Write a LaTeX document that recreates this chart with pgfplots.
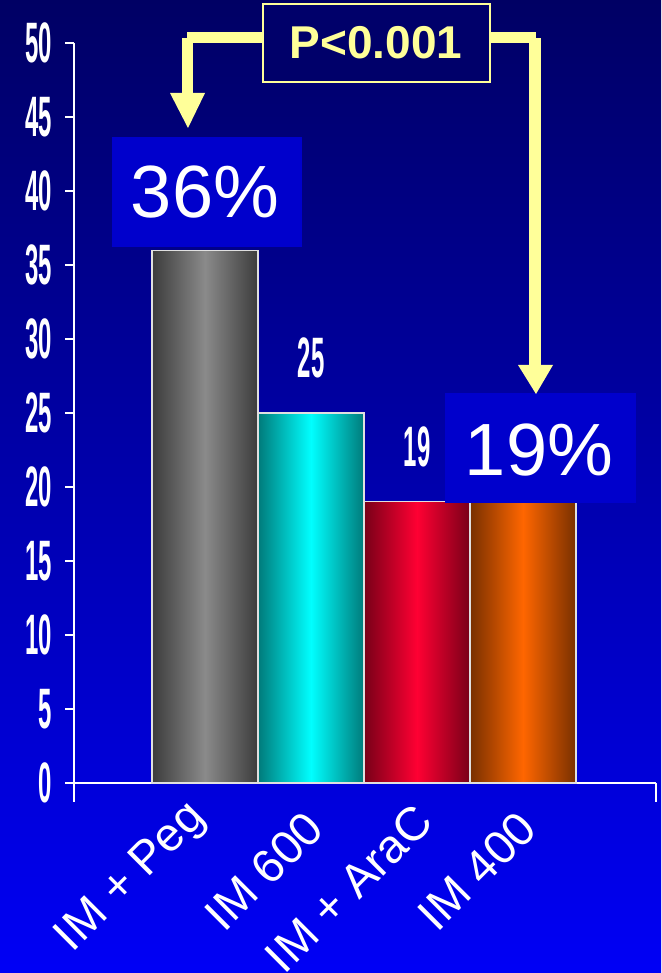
\documentclass[border=0pt]{standalone}
\usepackage{fontspec}
\setmainfont{Liberation Sans}
\usepackage{graphicx}
\usepackage{pgfplots}
\pgfplotsset{compat=1.18}
\definecolor{bgtop}{HTML}{000064}
\definecolor{bgbot}{HTML}{0000F6}
\definecolor{boxblue}{HTML}{0000CC}
\definecolor{pbox}{HTML}{00006A}
\definecolor{pyellow}{HTML}{FFFF99}
\definecolor{grayE}{HTML}{3C3C3C}
\definecolor{grayM}{HTML}{8A8A8A}
\definecolor{cyanE}{HTML}{007A7A}
\definecolor{cyanM}{HTML}{00FFFF}
\definecolor{redE}{HTML}{780018}
\definecolor{redM}{HTML}{FF0033}
\definecolor{oraE}{HTML}{783000}
\definecolor{oraM}{HTML}{FF6600}
\definecolor{barline}{HTML}{E0E0E0}
\newcommand\cn[1]{\scalebox{0.42}[1]{\fontsize{57}{57}\selectfont\bfseries #1}}
\begin{document}
\begin{tikzpicture}[x=1pt,y=1pt]
\useasboundingbox (0,0) rectangle (661,973);
\shade[top color=bgtop, bottom color=bgbot] (0,0) rectangle (661,973);
\begin{axis}[
  at={(74pt,190pt)}, anchor=south west,
  scale only axis, width=582pt, height=740pt,
  xmin=0, xmax=582, ymin=0, ymax=50,
  axis lines*=left,
  axis line style={white, line width=1.5pt},
  xtick=\empty,
  ytick={0,5,10,15,20,25,30,35,40,45,50},
  yticklabels={\cn{0},\cn{5},\cn{10},\cn{15},\cn{20},\cn{25},\cn{30},\cn{35},\cn{40},\cn{45},\cn{50}},
  yticklabel style={white, inner sep=0pt, anchor=east, xshift=-13pt},
  tick align=outside, major tick length=9pt,
  tick style={white, line width=1.5pt},
  clip=false,
  ybar, bar width=106,
]
\addplot[bar shift=0pt, draw=barline, line width=1.2pt, left color=grayE, right color=grayE, middle color=grayM] coordinates {(131,36)};
\addplot[bar shift=0pt, draw=barline, line width=1.2pt, left color=cyanE, right color=cyanE, middle color=cyanM,
  nodes near coords={\cn{25}}, nodes near coords style={white, anchor=center, yshift=55pt, inner sep=0pt}] coordinates {(237,25)};
\addplot[bar shift=0pt, draw=barline, line width=1.2pt, left color=redE, right color=redE, middle color=redM,
  nodes near coords={\cn{19}}, nodes near coords style={white, anchor=center, yshift=55pt, inner sep=0pt}] coordinates {(343,19)};
\addplot[bar shift=0pt, draw=barline, line width=1.2pt, left color=oraE, right color=oraE, middle color=oraM] coordinates {(449,19)};
\draw[white, line width=1.5pt] (axis cs:0,0) -- ++(0,-19pt);
\draw[white, line width=1.5pt] (axis cs:582,0) -- ++(0,-19pt);
\end{axis}
% category labels
\begin{scope}[every node/.style={white, font=\fontsize{47}{47}\selectfont, rotate=45, anchor=east, inner sep=0pt}]
\node at (199,162) {IM + Peg};
\node at (315,153) {IM 600};
\node at (424,160) {IM + AraC};
\node at (528,153) {IM 400};
\end{scope}
% value boxes
\fill[boxblue] (112,726) rectangle (302,836);
\node[white, font=\fontsize{74}{74}\selectfont, inner sep=0pt] at (205,781) {36\%};
\fill[boxblue] (445,470) rectangle (636,580);
\node[white, font=\fontsize{74}{74}\selectfont, inner sep=0pt] at (539,523) {19\%};
% P value box and arrows
\fill[pyellow] (187,930) rectangle (263,941);
\fill[pyellow] (182,880) rectangle (193,935);
\fill[pyellow] (170,880) -- (205,880) -- (188,845) -- cycle;
\fill[pyellow] (490,930) rectangle (536,941);
\fill[pyellow] (529,608) rectangle (541,935);
\fill[pyellow] (518,608) -- (553,608) -- (536,579) -- cycle;
\draw[pyellow, line width=1.5pt, fill=pbox] (263,891) rectangle (490,969);
\node[pyellow, font=\fontsize{46}{46}\selectfont\bfseries, inner sep=0pt] at (376,930) {P<0.001};
\end{tikzpicture}
\end{document}
